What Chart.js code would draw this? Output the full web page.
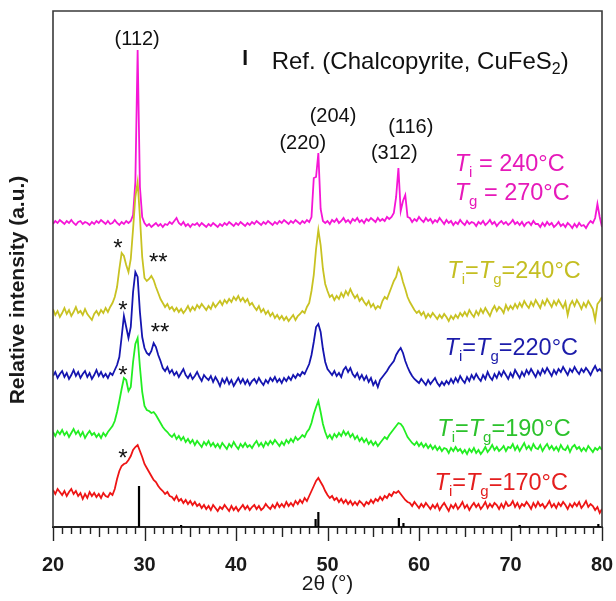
<!DOCTYPE html>
<html>
<head>
<meta charset="utf-8">
<script src="https://cdn.jsdelivr.net/npm/chart.js@4.4.1/dist/chart.umd.min.js"></script>
<style>
  html, body { margin: 0; padding: 0; background: #fff; }
  canvas { display: block; }
</style>
</head>
<body>
<canvas id="xrdChart" width="616" height="601"></canvas>
<script>
// 2θ grid of the scans (degrees)
const angleStart = 20;
const angleStep = 0.25;

// relative intensities, stacked with offsets as in the figure
const ti240tg270 = [
  303, 306, 304, 307,  305, 303, 306, 304,  307, 304, 302, 305,  306, 303, 305, 304,
  302, 305, 303, 306,  304, 307, 305, 303,  306, 303, 304, 307,  304, 302, 305, 303,
  306, 304, 306, 312,  345, 477, 340, 310,  304, 301, 303, 300,  302, 304, 301, 303,
  300, 303, 302, 305,  303, 306, 309, 304,  302, 305, 301, 303,  300, 303, 302, 304,
  301, 304, 302, 300,  303, 301, 304, 302,  300, 303, 301, 304,  302, 305, 303, 301,
  304, 302, 305, 303,  301, 304, 302, 305,  303, 306, 304, 302,  305, 303, 306, 304,
  302, 305, 303, 306,  304, 307, 305, 303,  306, 304, 307, 305,  303, 306, 304, 307,
  305, 310, 349, 350,  374, 318, 306, 304,  306, 303, 307, 305,  308, 304, 306, 309,
  305, 307, 304, 308,  306, 309, 305, 307,  304, 308, 306, 309,  307, 305, 309, 306,
  308, 306, 310, 308,  310, 314, 330, 359,  316, 326, 332, 310,  309, 305, 308, 306,
  310, 307, 305, 309,  306, 308, 304, 307,  305, 309, 306, 303,  307, 304, 306, 302,
  305, 303, 307, 304,  302, 306, 303, 305,  304, 301, 305, 303,  306, 302, 304, 307,
  303, 305, 301, 304,  306, 303, 305, 302,  304, 307, 303, 305,  302, 305, 301, 304,
  305, 302, 306, 303,  303, 300, 304, 301,  305, 302, 304, 300,  302, 305, 301, 303,
  300, 304, 302, 299,  303, 300, 304, 301,  302, 299, 303, 306,  304, 309, 323, 310,
  300
];
const ti240tg240 = [
  218, 212, 216, 210,  214, 219, 213, 217,  211, 215, 220, 214,  216, 212, 218, 213,
  210, 207, 213, 216,  212, 217, 214, 219,  215, 220, 224, 230,  240, 258, 274, 271,
  262, 255, 268, 298,  330, 345, 310, 270,  249, 246, 248, 251,  247, 240, 234, 228,
  224, 220, 223, 218,  220, 216, 219, 215,  218, 214, 217, 221,  216, 220, 217, 222,
  219, 223, 220, 217,  221, 218, 224, 220,  223, 226, 222, 227,  224, 228, 225, 230,
  227, 231, 226, 229,  225, 228, 222, 224,  220, 217, 221, 215,  218, 213, 216, 211,
  214, 209, 212, 208,  211, 207, 210, 206,  209, 212, 207, 211,  213, 216, 214, 220,
  224, 236, 252, 278,  297, 282, 258, 243,  236, 230, 232, 227,  231, 228, 234, 230,
  236, 232, 238, 233,  229, 232, 226, 229,  225, 222, 226, 220,  223, 218, 221, 219,
  226, 230, 228, 234,  240, 246, 250, 259,  254, 245, 238, 230,  225, 221, 217, 214,
  216, 212, 215, 209,  213, 210, 214, 211,  208, 212, 209, 213,  210, 206, 211, 208,
  212, 209, 214, 211,  215, 211, 217, 213,  210, 216, 212, 218,  214, 219, 215, 211,
  217, 221, 216, 220,  218, 214, 222, 217,  221, 218, 223, 219,  224, 220, 226, 222,
  219, 225, 221, 227,  223, 219, 226, 222,  228, 224, 220, 226,  222, 227, 223, 219,
  225, 212, 222, 226,  221, 227, 223, 218,  224, 220, 226, 222,  218, 207, 223, 226,
  230
];
const ti220tg220 = [
  151, 155, 149, 153,  156, 150, 154, 148,  152, 157, 151, 155,  149, 153, 156, 150,
  154, 148, 152, 157,  151, 155, 150, 153,  149, 154, 152, 157,  162, 170, 190, 211,
  200, 189, 200, 235,  255, 250, 215, 190,  179, 174, 172, 176,  184, 180, 172, 166,
  159, 156, 160, 154,  157, 152, 155, 150,  154, 158, 152, 149,  153, 148, 151, 155,
  150, 146, 152, 149,  147, 151, 145, 150,  146, 141, 148, 144,  149, 143, 147, 141,
  145, 149, 144, 148,  143, 147, 142, 146,  148, 144, 149, 145,  142, 147, 144, 149,
  146, 150, 145, 148,  144, 149, 146, 150,  147, 152, 149, 153,  151, 155, 153, 158,
  163, 172, 185, 200,  203, 195, 178, 165,  158, 155, 152, 156,  151, 154, 150, 157,
  160, 155, 159, 153,  150, 154, 148, 152,  147, 151, 145, 149,  142, 146, 140, 147,
  150, 153, 156, 160,  163, 166, 172, 176,  179, 174, 166, 160,  155, 151, 148, 146,
  144, 148, 145, 142,  147, 143, 146, 149,  144, 141, 145, 142,  146, 143, 148, 144,
  149, 145, 151, 147,  144, 150, 146, 152,  148, 153, 149, 146,  152, 148, 155, 150,
  147, 153, 149, 155,  151, 156, 152, 148,  154, 150, 157, 153,  149, 155, 151, 157,
  153, 158, 154, 150,  156, 152, 158, 154,  159, 155, 151, 157,  153, 158, 155, 160,
  156, 152, 158, 155,  160, 156, 153, 158,  155, 159, 156, 152,  157, 161, 156, 158,
  155
];
const ti190tg190 = [
  95, 91, 96, 93,  97, 92, 95, 90,  94, 98, 93, 96,  91, 95, 89, 93,
  96, 92, 94, 90,  93, 89, 94, 91,  95, 98, 101, 106,  115, 126, 138, 149,
  147, 136, 140, 165,  183, 189, 160, 135,  121, 117, 116, 114,  115, 112, 108, 104,
  100, 97, 95, 92,  90, 93, 88, 91,  87, 90, 85, 88,  84, 87, 82, 86,
  83, 80, 85, 82,  86, 81, 84, 80,  83, 79, 84, 81,  78, 83, 80, 85,
  81, 78, 83, 80,  84, 80, 82, 79,  83, 86, 81, 84,  80, 85, 82, 86,
  83, 87, 84, 81,  85, 82, 87, 84,  88, 85, 90, 87,  89, 92, 90, 95,
  98, 104, 113, 120,  126, 115, 103, 95,  89, 92, 88, 93,  90, 94, 91, 96,
  92, 95, 90, 93,  88, 91, 86, 89,  85, 88, 83, 86,  82, 85, 81, 84,
  87, 90, 88, 92,  95, 98, 101, 104,  103, 100, 95, 90,  87, 84, 82, 85,
  81, 84, 80, 83,  79, 82, 78, 81,  77, 80, 76, 79,  78, 74, 79, 76,
  80, 76, 78, 74,  77, 73, 78, 75,  79, 74, 77, 73,  76, 80, 75, 78,
  82, 77, 80, 76,  78, 81, 76, 80,  79, 83, 77, 81,  76, 80, 84, 78,
  81, 77, 83, 79,  78, 82, 76, 80,  83, 78, 81, 77,  80, 76, 82, 78,
  77, 81, 75, 80,  82, 78, 80, 76,  79, 76, 81, 78,  75, 79, 77, 80,
  77
];
const ti170tg170 = [
  37, 33, 38, 35,  32, 36, 31, 35,  38, 33, 36, 31,  34, 28, 33, 29,
  35, 31, 34, 30,  33, 29, 34, 31,  30, 34, 32, 38,  48, 56, 61, 63,
  64, 67, 71, 77,  80, 82, 76, 70,  63, 59, 55, 51,  47, 45, 41, 38,
  36, 33, 35, 31,  30, 27, 31, 26,  28, 24, 27, 23,  26, 22, 25, 21,
  23, 19, 22, 18,  21, 17, 22, 19,  16, 20, 18, 22,  19, 16, 21, 17,
  20, 16, 19, 22,  18, 21, 17, 20,  22, 18, 21, 17,  19, 23, 20, 18,
  22, 19, 24, 20,  23, 20, 25, 21,  24, 21, 26, 23,  27, 24, 29, 26,
  31, 36, 41, 46,  49, 45, 41, 36,  32, 29, 31, 27,  29, 25, 28, 24,
  27, 23, 26, 22,  25, 22, 26, 24,  21, 25, 23, 27,  24, 28, 26, 30,
  27, 31, 29, 33,  31, 35, 34, 36,  33, 30, 27, 25,  24, 21, 25, 22,
  19, 23, 20, 24,  21, 18, 22, 19,  23, 17, 21, 24,  20, 16, 22, 19,
  23, 18, 21, 25,  19, 22, 17, 21,  24, 20, 23, 18,  21, 25, 19, 23,
  20, 24, 22, 18,  23, 19, 25, 21,  22, 26, 20, 24,  19, 23, 21, 25,
  22, 18, 24, 20,  25, 21, 23, 19,  22, 26, 20, 23,  19, 24, 21, 25,
  22, 18, 23, 20,  24, 21, 25, 19,  22, 26, 20, 23,  21, 17, 20, 14,
  18
];

// reference pattern (chalcopyrite, CuFeS2)
const refAngles = [29.4, 34.0, 48.7, 49.0, 57.8, 58.3, 71.0, 79.6];
const refHeights = [41, 2, 8, 15, 9, 4, 2, 3];

const xTickLabels = [20, 30, 40, 50, 60, 70, 80];

function toPoints(values) {
  return values.map(function (v, i) {
    return { x: angleStart + i * angleStep, y: v };
  });
}

function refPoints() {
  const pts = [];
  refAngles.forEach(function (a, i) {
    pts.push({ x: a, y: 0 }, { x: a, y: refHeights[i] }, { x: a, y: null });
  });
  return pts;
}

const FONT = '"Liberation Sans", Arial, Helvetica, sans-serif';

// text pieces: t = text, it = italic, sub = subscript
function T(sub) { return [{ t: "T", it: true }, { t: sub, sub: true }]; }
const annotations = [
  { x: 29.2, y: 489, size: 20, color: "#111", align: "center", parts: [{ t: "(112)" }] },
  { x: 47.3, y: 385, size: 20, color: "#111", align: "center", parts: [{ t: "(220)" }] },
  { x: 50.6, y: 412, size: 20, color: "#111", align: "center", parts: [{ t: "(204)" }] },
  { x: 57.3, y: 375, size: 20, color: "#111", align: "center", parts: [{ t: "(312)" }] },
  { x: 59.1, y: 401, size: 20, color: "#111", align: "center", parts: [{ t: "(116)" }] },
  { x: 43.9, y: 467, size: 24, color: "#111", align: "left",
    parts: [{ t: "Ref. (Chalcopyrite, CuFeS" }, { t: "2", sub: true }, { t: ")" }] },
  { x: 63.9, y: 364, size: 23.5, color: "#e619b9", align: "left", parts: T("i").concat([{ t: " = 240°C" }]) },
  { x: 63.9, y: 335, size: 23.5, color: "#e619b9", align: "left", parts: T("g").concat([{ t: " = 270°C" }]) },
  { x: 63.1, y: 257, size: 23.5, color: "#c4be22", align: "left", parts: T("i").concat([{ t: "=" }], T("g"), [{ t: "=240°C" }]) },
  { x: 62.8, y: 180, size: 23.5, color: "#1c1caa", align: "left", parts: T("i").concat([{ t: "=" }], T("g"), [{ t: "=220°C" }]) },
  { x: 62.0, y: 99, size: 23.5, color: "#2cc22c", align: "left", parts: T("i").concat([{ t: "=" }], T("g"), [{ t: "=190°C" }]) },
  { x: 61.7, y: 45, size: 23.5, color: "#e41e1e", align: "left", parts: T("i").concat([{ t: "=" }], T("g"), [{ t: "=170°C" }]) }
];
const stars = [
  { x: 27.1, y: 284, t: "*" },
  { x: 31.5, y: 270, t: "**" },
  { x: 27.65, y: 222, t: "*" },
  { x: 31.7, y: 200, t: "**" },
  { x: 27.65, y: 157, t: "*" },
  { x: 27.65, y: 74, t: "*" }
];

function partFont(p, size) {
  const s = p.sub ? Math.round(size * 0.65) : size;
  return (p.it ? "italic " : "") + s + "px " + FONT;
}

function drawRich(ctx, a, px, py) {
  let width = 0;
  a.parts.forEach(function (p) {
    ctx.font = partFont(p, a.size);
    width += ctx.measureText(p.t).width;
  });
  let cx = a.align === "center" ? px - width / 2 : px;
  const base = py + a.size * 0.36;
  ctx.fillStyle = a.color;
  ctx.textAlign = "left";
  ctx.textBaseline = "alphabetic";
  a.parts.forEach(function (p) {
    ctx.font = partFont(p, a.size);
    ctx.fillText(p.t, cx, base + (p.sub ? a.size * 0.24 : 0));
    cx += ctx.measureText(p.t).width;
  });
}

const decorations = {
  id: "decorations",
  afterDraw: function (chart) {
    const ctx = chart.ctx;
    const area = chart.chartArea;
    const xs = chart.scales.x;
    const ys = chart.scales.y;
    ctx.save();

    // frame (top, left, right)
    ctx.strokeStyle = "#3a3a3a";
    ctx.lineWidth = 1.6;
    ctx.beginPath();
    ctx.moveTo(area.left, area.bottom);
    ctx.lineTo(area.left, area.top);
    ctx.lineTo(area.right, area.top);
    ctx.lineTo(area.right, area.bottom);
    ctx.stroke();

    // outward ticks: 10° major, 5° medium, 1° minor
    ctx.strokeStyle = "#222";
    ctx.lineWidth = 1.4;
    for (let v = xs.min; v <= xs.max; v += 1) {
      const px = Math.round(xs.getPixelForValue(v)) + 0.5;
      const len = v % 10 === 0 ? 14 : (v % 5 === 0 ? 10 : 7);
      ctx.beginPath();
      ctx.moveTo(px, area.bottom);
      ctx.lineTo(px, area.bottom + len);
      ctx.stroke();
    }

    // legend mark for the reference bars
    ctx.fillStyle = "#111";
    ctx.fillRect(xs.getPixelForValue(41.0) - 1.5, ys.getPixelForValue(477), 3, 15);

    annotations.forEach(function (a) {
      drawRich(ctx, a, xs.getPixelForValue(a.x), ys.getPixelForValue(a.y));
    });

    ctx.font = "24px " + FONT;
    ctx.fillStyle = "#111";
    ctx.textAlign = "center";
    ctx.textBaseline = "alphabetic";
    stars.forEach(function (s) {
      const m = ctx.measureText(s.t);
      const off = (m.actualBoundingBoxAscent - m.actualBoundingBoxDescent) / 2;
      ctx.fillText(s.t, xs.getPixelForValue(s.x), ys.getPixelForValue(s.y) + off);
    });

    // y axis title
    ctx.translate(18, 290);
    ctx.rotate(-Math.PI / 2);
    ctx.font = "bold 21px " + FONT;
    ctx.fillStyle = "#1a1a1a";
    ctx.textAlign = "center";
    ctx.textBaseline = "middle";
    ctx.fillText("Relative intensity (a.u.)", 0, 0);
    ctx.restore();
  }
};

const seriesStyle = { pointRadius: 0, borderWidth: 1.8, tension: 0, fill: false };

new Chart(document.getElementById("xrdChart"), {
  type: "line",
  data: {
    datasets: [
      Object.assign({ label: "Ref.", data: refPoints(), borderColor: "#000", spanGaps: false }, seriesStyle, { borderWidth: 2.2 }),
      Object.assign({ label: "Ti=Tg=170°C", data: toPoints(ti170tg170), borderColor: "#ee1515" }, seriesStyle),
      Object.assign({ label: "Ti=Tg=190°C", data: toPoints(ti190tg190), borderColor: "#22ee22" }, seriesStyle),
      Object.assign({ label: "Ti=Tg=220°C", data: toPoints(ti220tg220), borderColor: "#1515b0" }, seriesStyle),
      Object.assign({ label: "Ti=Tg=240°C", data: toPoints(ti240tg240), borderColor: "#c8c222" }, seriesStyle),
      Object.assign({ label: "Ti=240°C, Tg=270°C", data: toPoints(ti240tg270), borderColor: "#f516d6" }, seriesStyle)
    ]
  },
  options: {
    responsive: false,
    animation: false,
    events: [],
    layout: { padding: { left: 53, right: 14, top: 11, bottom: 0 } },
    plugins: {
      legend: { display: false },
      tooltip: { enabled: false }
    },
    scales: {
      x: {
        type: "linear",
        min: 20,
        max: 80,
        afterFit: function (scale) { scale.height = 74; },
        afterBuildTicks: function (scale) {
          scale.ticks = xTickLabels.map(function (v) { return { value: v }; });
        },
        grid: { display: false, drawTicks: true, tickLength: 26 },
        border: { display: true, color: "#222", width: 2 },
        ticks: {
          padding: 0,
          color: "#1a1a1a",
          font: { family: FONT, size: 20, weight: "bold" }
        },
        title: {
          display: true,
          text: "2θ (°)",
          color: "#1a1a1a",
          font: { family: FONT, size: 21 },
          padding: { top: 0, bottom: 4 }
        }
      },
      y: {
        display: false,
        min: 0,
        max: 516
      }
    }
  },
  plugins: [decorations]
});
</script>
</body>
</html>
